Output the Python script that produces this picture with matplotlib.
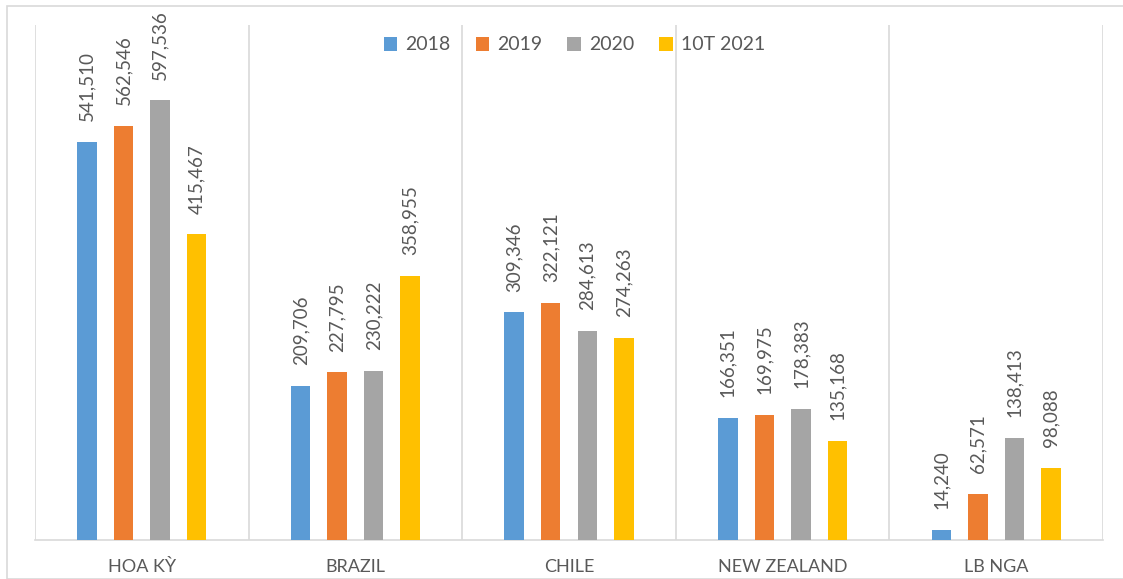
import matplotlib
matplotlib.use("Agg")
import matplotlib.pyplot as plt
import numpy as np
from matplotlib.patches import Rectangle

categories = ["HOA KỲ", "BRAZIL", "CHILE", "NEW ZEALAND", "LB NGA"]
series_names = ["2018", "2019", "2020", "10T 2021"]
v2018 = [541510, 209706, 309346, 166351, 14240]
v2019 = [562546, 227795, 322121, 169975, 62571]
v2020 = [597536, 230222, 284613, 178383, 138413]
v10t2021 = [415467, 358955, 274263, 135168, 98088]
values = [v2018, v2019, v2020, v10t2021]
colors = ["#5B9BD5", "#ED7D31", "#A5A5A5", "#FFC000"]

plt.rcParams['font.family'] = ['Lato', 'DejaVu Sans']

W, H = 1123, 579
fig = plt.figure(figsize=(W / 100, H / 100), dpi=100)
fig.patches.append(Rectangle((7 / W, 0), 1.2, (579 - 6) / H, transform=fig.transFigure,
                             fill=False, edgecolor="#D9D9D9", linewidth=1.2, zorder=0))

left, right, top, bottom = 35, 1103, 25, 540
ax = fig.add_axes([left / W, (H - bottom) / H, (right - left) / W, (bottom - top) / H])

x = np.arange(len(categories))
width = 0.091
step = 0.171
for i, (name, vals, c) in enumerate(zip(series_names, values, colors)):
    pos = x + (i - 1.5) * step
    bars = ax.bar(pos, vals, width=width, color=c, label=name, zorder=3)
    for b, v in zip(bars, vals):
        ax.annotate(f"{v:,}", (b.get_x() + b.get_width() / 2, v),
                    xytext=(0, 15), textcoords="offset points",
                    rotation=90, ha="center", va="bottom",
                    fontsize=13.5, color="#595959")

ax.set_xlim(-0.5, len(categories) - 0.5)
ax.set_ylim(0, 700000)
ax.set_yticks([])
ax.set_xticks(x)
ax.set_xticklabels(categories, fontsize=13, color="#595959")
ax.tick_params(axis="x", length=0, pad=14)
ax.set_xticks(np.arange(-0.5, len(categories), 1.0), minor=True)
ax.tick_params(axis="x", which="minor", length=0)
ax.grid(axis="x", which="minor", color="#D9D9D9", linewidth=1.2, zorder=0)
ax.grid(axis="x", which="major", visible=False)
for s in ["top", "left", "right"]:
    ax.spines[s].set_visible(False)
ax.spines["bottom"].set_color("#D9D9D9")
ax.spines["bottom"].set_linewidth(1.2)

leg = ax.legend(loc="center", bbox_to_anchor=(0.505, 1 - (45 - 25) / (bottom - top)),
                ncol=4, frameon=False, fontsize=14, handlelength=0.7, handleheight=0.7,
                handletextpad=0.4, columnspacing=1.3)
for t in leg.get_texts():
    t.set_color("#595959")

fig.savefig("out.png", dpi=100)
